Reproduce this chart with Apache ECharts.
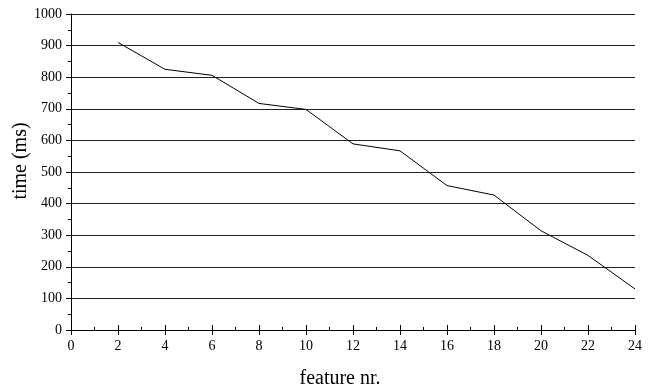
<!DOCTYPE html>
<html>
<head>
<meta charset="utf-8">
<script src="https://cdn.jsdelivr.net/npm/echarts@6/dist/echarts.min.js"></script>
<style>
  html, body { margin: 0; padding: 0; background: #fff; }
  #chartBox { width: 660px; height: 391px; }
</style>
</head>
<body>
<div id="chartBox"></div>
<script>
// feature count vs. time
const features = [2, 4, 6, 8, 10, 12, 14, 16, 18, 20, 22, 24];
const timeMs = [910, 825, 806, 717, 698, 589, 567, 457, 427, 314, 236, 130];

const chartDom = document.getElementById("chartBox");
const myChart = echarts.init(chartDom);
const font = "'Liberation Serif', 'Times New Roman', serif";

const points = features.map((f, i) => [f, timeMs[i]]);

const option = {
  animation: false,
  grid: { left: 71, right: 25, top: 14, bottom: 61, containLabel: false, outerBoundsMode: "none" },
  xAxis: [
    {
      type: "value",
      min: 0,
      max: 24,
      interval: 2,
      name: "feature nr.",
      nameLocation: "middle",
      nameGap: 39,
      nameMoveOverlap: false,
      nameTextStyle: { fontFamily: font, fontSize: 20, color: "#000", padding: [0, 26, 0, 0] },
      axisLine: { lineStyle: { color: "#000", width: 1 } },
      axisTick: { show: true, length: 5, lineStyle: { color: "#000" } },
      axisLabel: { fontFamily: font, fontSize: 14, color: "#000", margin: 9 },
      splitLine: { show: false },
    },
    {
      type: "value",
      min: 0,
      max: 24,
      interval: 2,
      position: "bottom",
      axisLine: { show: false },
      axisTick: { show: true, inside: true, length: 5, lineStyle: { color: "#000" } },
      minorTick: { show: true, splitNumber: 2, length: 3, lineStyle: { color: "#000" } },
      axisLabel: { show: false },
      splitLine: { show: false },
    },
  ],
  yAxis: {
    type: "value",
    min: 0,
    max: 1000,
    interval: 100,
    name: "time (ms)",
    nameLocation: "middle",
    nameGap: 40,
    nameMoveOverlap: false,
    nameTextStyle: { fontFamily: font, fontSize: 20, color: "#000", padding: [0, 0, 0, 22] },
    axisLine: { show: true, lineStyle: { color: "#000", width: 1 } },
    axisTick: { show: true, length: 5, lineStyle: { color: "#000" } },
    minorTick: { show: true, splitNumber: 2, length: 3, lineStyle: { color: "#000" } },
    axisLabel: { fontFamily: font, fontSize: 14, color: "#000", margin: 9, formatter: (v) => String(v) },
    splitLine: { show: true, lineStyle: { color: "#222", width: 1 } },
  },
  series: [
    {
      type: "line",
      data: points,
      symbol: "none",
      lineStyle: { color: "#000", width: 1 },
    },
  ],
};

option && myChart.setOption(option);
</script>
</body>
</html>
